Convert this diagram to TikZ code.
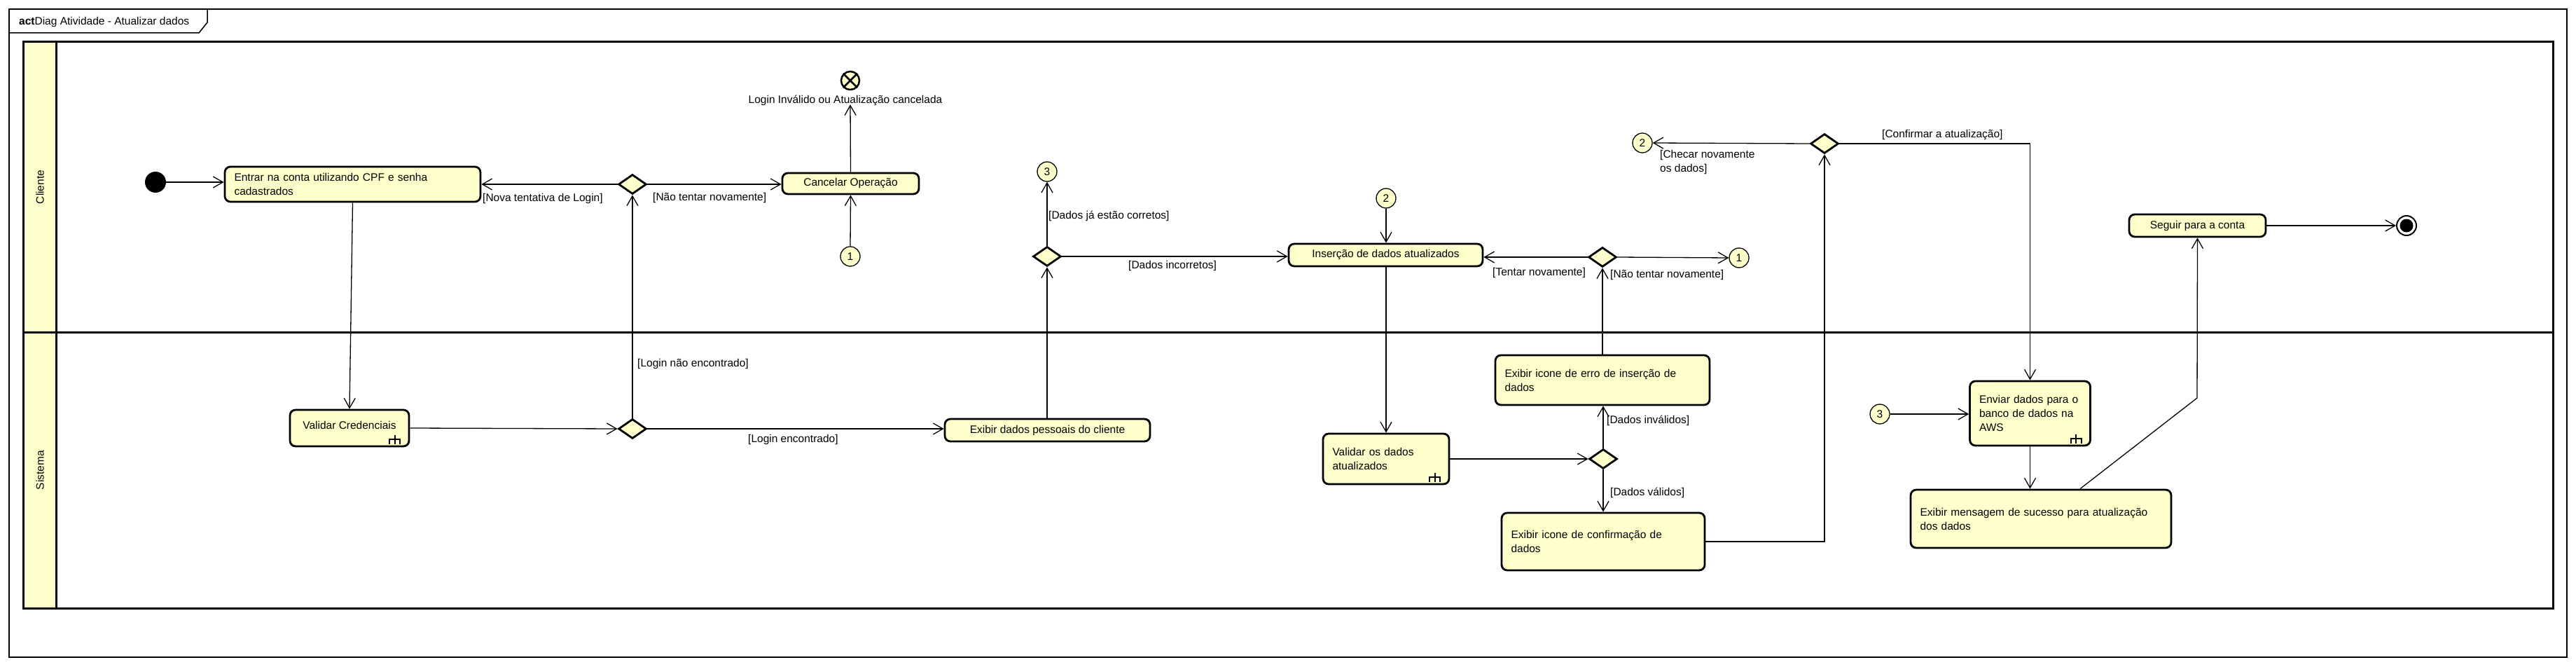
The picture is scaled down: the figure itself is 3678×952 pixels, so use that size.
\documentclass[tikz,border=0pt]{standalone}
\usepackage{fontspec}
\setmainfont{Liberation Sans}
\usetikzlibrary{arrows.meta,shapes.geometric,calc}
\definecolor{uyellow}{RGB}{255,255,204}
\newcommand\rakeicon[1]{%
  \draw[line width=2pt] ($(#1.south east)+(-21.5,-17)$) -- ($(#1.south east)+(-21.5,-4)$)
    ($(#1.south east)+(-29,-4)$) -- ($(#1.south east)+(-29,-11)$) -- ($(#1.south east)+(-14,-11)$) -- ($(#1.south east)+(-14,-4)$);}
\begin{document}
\begin{tikzpicture}[x=1pt,y=-1pt,
  every node/.style={font=\fontsize{15.5}{20}\selectfont},
  act/.style={draw, line width=2.8pt, rounded corners=8pt, fill=uyellow, inner xsep=13.5pt, inner ysep=0pt, align=left},
  actc/.style={draw, line width=2.8pt, rounded corners=8pt, fill=uyellow, inner sep=0pt, align=center},
  dec/.style={diamond, draw, line width=2.8pt, fill=uyellow, aspect=1.43, minimum width=40pt, minimum height=28pt, inner sep=0pt},
  conn/.style={circle, draw, line width=1.3pt, fill=uyellow, minimum size=28pt, inner sep=0pt},
  flow/.style={line width=1.3pt, -{Straight Barb[length=14pt,width=16pt]}},
  guard/.style={anchor=west, inner sep=0pt},
]
\useasboundingbox (0,0) rectangle (3678,952);
\fill[white] (0,0) rectangle (3678,952);

% frame
\draw[line width=1.5pt] (13,13) rectangle (3665,938);
\draw[line width=1.5pt] (13,47) -- (284,47) -- (296,32) -- (296,13);
\node[anchor=west, inner sep=0pt] (title) at (27,31) {\textbf{act}Diag Atividade - Atualizar dados};

% swimlanes
\fill[uyellow] (33,60) rectangle (80,868);
\draw[line width=3pt] (33,60) rectangle (3645,868);
\draw[line width=3pt] (80,60) -- (80,868);
\draw[line width=3pt] (33,474) -- (3645,474);
\node[rotate=90] (lane1) at (57,267) {Cliente};
\node[rotate=90] (lane2) at (57,671) {Sistema};

% nodes
\node[circle, fill=black, minimum size=30pt, inner sep=0pt] (start) at (222,260) {};
\node[act, text width=338pt, minimum height=50pt] (entrar) at (503.5,263) {Entrar na conta utilizando CPF e senha\\cadastrados};
\node[dec] (d1) at (903,263) {};
\node[actc, minimum width=195pt, minimum height=30pt] (cancel) at (1214.5,262) {Cancelar Operação};
\node[circle, draw, line width=2.5pt, fill=uyellow, minimum size=26pt, inner sep=0pt] (ff) at (1214,115) {};
\draw[line width=2.5pt] (ff.north east) -- (ff.south west) (ff.north west) -- (ff.south east);
\node (fflbl) at (1207,143) {Login Inválido ou Atualização cancelada};
\node[conn] (c1a) at (1214,366) {1};
\node[conn] (c3a) at (1495,245) {3};
\node[dec] (d3) at (1495,366) {};
\node[actc, minimum width=293pt, minimum height=32pt] (exibirdados) at (1495.5,614) {Exibir dados pessoais do cliente};
\node[actc, minimum width=170pt, minimum height=52pt, text depth=8pt] (validarcred) at (499,611) {Validar Credenciais};
\rakeicon{validarcred}
\node[dec] (d2) at (903,612) {};
\node[actc, minimum width=277pt, minimum height=32pt] (insercao) at (1978.5,364) {Inserção de dados atualizados};
\node[conn] (c2a) at (1979,283) {2};
\node[dec] (d4) at (2288,367) {};
\node[conn] (c1b) at (2483,368) {1};
\node[conn] (c2b) at (2345,204) {2};
\node[dec] (d5) at (2605,205) {};
\node[actc, minimum width=195pt, minimum height=32pt] (seguir) at (3137.5,322) {Seguir para a conta};
\node[circle, draw, line width=2pt, minimum size=28pt, inner sep=0pt] (fin) at (3436,322) {};
\node[circle, fill=black, minimum size=19pt, inner sep=0pt] (fininner) at (fin) {};
\node[act, text width=153pt, minimum height=72pt, text depth=20pt] (validardados) at (1979,655) {Validar os dados\\atualizados};
\rakeicon{validardados}
\node[act, text width=279pt, minimum height=71pt] (erro) at (2288,542.5) {Exibir icone de erro de inserção de\\dados};
\node[dec] (d6) at (2289,655) {};
\node[act, text width=263pt, minimum height=82pt] (confirm) at (2289,773) {Exibir icone de confirmação de\\dados};
\node[conn] (c3b) at (2684,591) {3};
\node[act, text width=145pt, minimum height=92pt] (enviar) at (2898.5,590) {Enviar dados para o\\banco de dados na\\AWS};
\rakeicon{enviar}
\node[act, text width=345pt, minimum height=83pt] (mensagem) at (2914,740.5) {Exibir mensagem de sucesso para atualização\\dos dados};

% edges
\draw[flow] (start.east) -- (start.east -| entrar.west);
\draw[flow] (d1.west) -- (d1.west -| entrar.east);
\draw[flow] (d1.east) -- (d1.east -| cancel.west);
\draw[flow] (cancel.north) -- ([yshift=-20pt]ff.south);
\draw[flow] (c1a.north) -- (cancel.south);
\draw[flow] (entrar.south) -- (validarcred.north);
\draw[flow] (validarcred.east) -- (d2.west);
\draw[flow] (d2.north) -- (d1.south);
\draw[flow] (d2.east) -- (d2.east -| exibirdados.west);
\draw[flow] (exibirdados.north -| d3) -- (d3.south);
\draw[flow] (d3.north) -- (c3a.south);
\draw[flow] (d3.east) -- (d3.east -| insercao.west);
\draw[flow] (c2a.south) -- (insercao.north -| c2a);
\draw[flow] (insercao.south -| validardados) -- (validardados.north);
\draw[flow] (validardados.east) -- (d6.west);
\draw[flow] (d6.north) -- (erro.south -| d6);
\draw[flow] (d6.south) -- (confirm.north -| d6);
\draw[flow] (erro.north -| d4) -- (d4.south);
\draw[flow] (d4.west) -- (d4.west -| insercao.east);
\draw[flow] (d4.east) -- (c1b.west);
\draw[flow] (confirm.east) -| (d5.south);
\draw[flow] (d5.west) -- (c2b.east);
\draw[flow] (d5.east) -| (enviar.north);
\draw[flow] (c3b.east) -- (c3b.east -| enviar.west);
\draw[flow] (enviar.south) -- (mensagem.north -| enviar);
\coordinate (bend) at (3137,568);
\draw[flow] ([xshift=56pt]mensagem.north) -- (bend) -- (seguir.south);
\draw[flow] (seguir.east) -- (fin.west);

% guards
\node[guard] (g1) at (689,283) {[Nova tentativa de Login]};
\node[guard] (g2) at (932,282) {[Não tentar novamente]};
\node[guard] (g3) at (910,519) {[Login não encontrado]};
\node[guard] (g4) at (1068,627) {[Login encontrado]};
\node[guard] (g5) at (1497,308) {[Dados já estão corretos]};
\node[guard] (g6) at (1611,379) {[Dados incorretos]};
\node[guard] (g7) at (2131,389) {[Tentar novamente]};
\node[guard] (g8) at (2299,392) {[Não tentar novamente]};
\node[guard, align=left] (g9) at (2370,231) {[Checar novamente\\os dados]};
\node[guard] (g10) at (2687,193) {[Confirmar a atualização]};
\node[guard] (g11) at (2294,600) {[Dados inválidos]};
\node[guard] (g12) at (2299,703) {[Dados válidos]};
\end{tikzpicture}
\end{document}
